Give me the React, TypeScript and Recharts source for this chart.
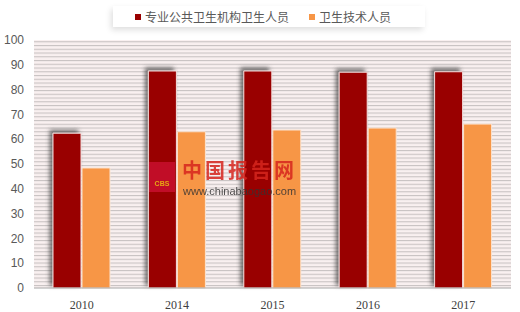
import { BarChart, Bar, XAxis, YAxis, CartesianGrid, Legend } from "recharts";

// 年份与两组人员数据（单位：万人）
const years = ["2010", "2014", "2015", "2016", "2017"];
const publicHealthStaff = [62.4, 87.5, 87.5, 87.0, 87.2];
const healthTechStaff = [48.4, 63.0, 63.7, 64.5, 66.1];
const yTicks = [0, 10, 20, 30, 40, 50, 60, 70, 80, 90, 100];

const seriesNames = ["专业公共卫生机构卫生人员", "卫生技术人员"];

const data = years.map((year, i) => ({
  year,
  publicHealth: publicHealthStaff[i],
  healthTech: healthTechStaff[i],
}));

const renderLegend = (props: any) => {
  const { payload } = props;
  return (
    <div
      style={{
        display: "flex",
        alignItems: "center",
        height: 21,
        width: 290,
        paddingLeft: 22,
        background: "#fff",
        boxShadow: "-2px 3px 6px rgba(0,0,0,0.13)",
        fontFamily: "'Noto Sans CJK SC', sans-serif",
        fontSize: 12,
        color: "#595959",
      }}
    >
      {payload.map((entry: any, i: number) => (
        <div key={i} style={{ display: "flex", alignItems: "center", marginRight: 20 }}>
          <span
            style={{
              display: "inline-block",
              width: 6,
              height: 6,
              background: entry.color,
              marginRight: 4,
            }}
          />
          <span>{entry.value}</span>
        </div>
      ))}
    </div>
  );
};

export default function App() {
  return (
    <div
      style={{
        position: "absolute",
        left: 0,
        top: 0,
        width: 520,
        height: 312,
        background: "#fff",
      }}
    >
      <BarChart
        width={520}
        height={312}
        data={data}
        margin={{ top: 19, right: 9, left: 0, bottom: 0 }}
        barCategoryGap="20%"
        barGap={1}
      >
        <defs>
          <pattern id="hstripes" width="8" height="3.75" patternUnits="userSpaceOnUse">
            <rect x="0" y="0" width="8" height="3.75" fill="#f9f0f0" />
            <rect x="0" y="0" width="8" height="1.1" fill="#c9c3c3" />
          </pattern>
          <filter id="barShadow" x="-40%" y="-10%" width="160%" height="130%">
            <feDropShadow dx="-3" dy="-3" stdDeviation="2" floodColor="#404040" floodOpacity="0.75" />
          </filter>
        </defs>
        <CartesianGrid
          horizontal={false}
          vertical={false}
          fill="url(#hstripes)"
          fillOpacity={1}
        />
        <XAxis
          dataKey="year"
          height={24}
          tickLine={false}
          axisLine={{ stroke: "#a6a6a6" }}
          tick={{ fill: "#404040", fontSize: 12, fontFamily: "'Liberation Serif', serif" }}
          tickMargin={6}
        />
        <YAxis
          width={34}
          domain={[0, 100]}
          ticks={yTicks}
          interval={0}
          axisLine={false}
          tickLine={false}
          tickSize={0}
          tickMargin={10}
          tick={{ fill: "#595959", fontSize: 12, fontFamily: "'Liberation Sans', sans-serif" }}
        />
        <Legend
          verticalAlign="top"
          height={21}
          content={renderLegend}
          wrapperStyle={{ position: "absolute", top: 6, left: 113, width: "auto" }}
        />
        <Bar
          dataKey="publicHealth"
          name={seriesNames[0]}
          fill="#990000"
          stroke="#f2dcdb"
          strokeWidth={1}
          barSize={28}
          filter="url(#barShadow)"
          isAnimationActive={false}
        />
        <Bar
          dataKey="healthTech"
          name={seriesNames[1]}
          fill="#f79646"
          stroke="#fbe3d0"
          strokeWidth={1}
          barSize={28}
          isAnimationActive={false}
        />
      </BarChart>
      {/* 水印 */}
      <div
        style={{
          position: "absolute",
          left: 149,
          top: 162,
          width: 26,
          height: 30,
          background: "#c8102e",
          opacity: 0.85,
          color: "#f5c518",
          fontFamily: "'Liberation Sans', sans-serif",
          fontSize: 7,
          fontWeight: 700,
          textAlign: "center",
          lineHeight: "44px",
        }}
      >
        CBS
      </div>
      <div
        style={{
          position: "absolute",
          left: 182,
          top: 159,
          fontFamily: "'Noto Sans CJK SC', sans-serif",
          fontSize: 20,
          fontWeight: 700,
          color: "#d7261e",
          opacity: 0.85,
          letterSpacing: 3,
          lineHeight: "22px",
        }}
      >
        中国报告网
      </div>
      <div
        style={{
          position: "absolute",
          left: 183,
          top: 185,
          fontFamily: "'Liberation Sans', sans-serif",
          fontSize: 11,
          color: "#333",
          opacity: 0.85,
          lineHeight: "12px",
        }}
      >
        www.chinabaogao.com
      </div>
    </div>
  );
}
